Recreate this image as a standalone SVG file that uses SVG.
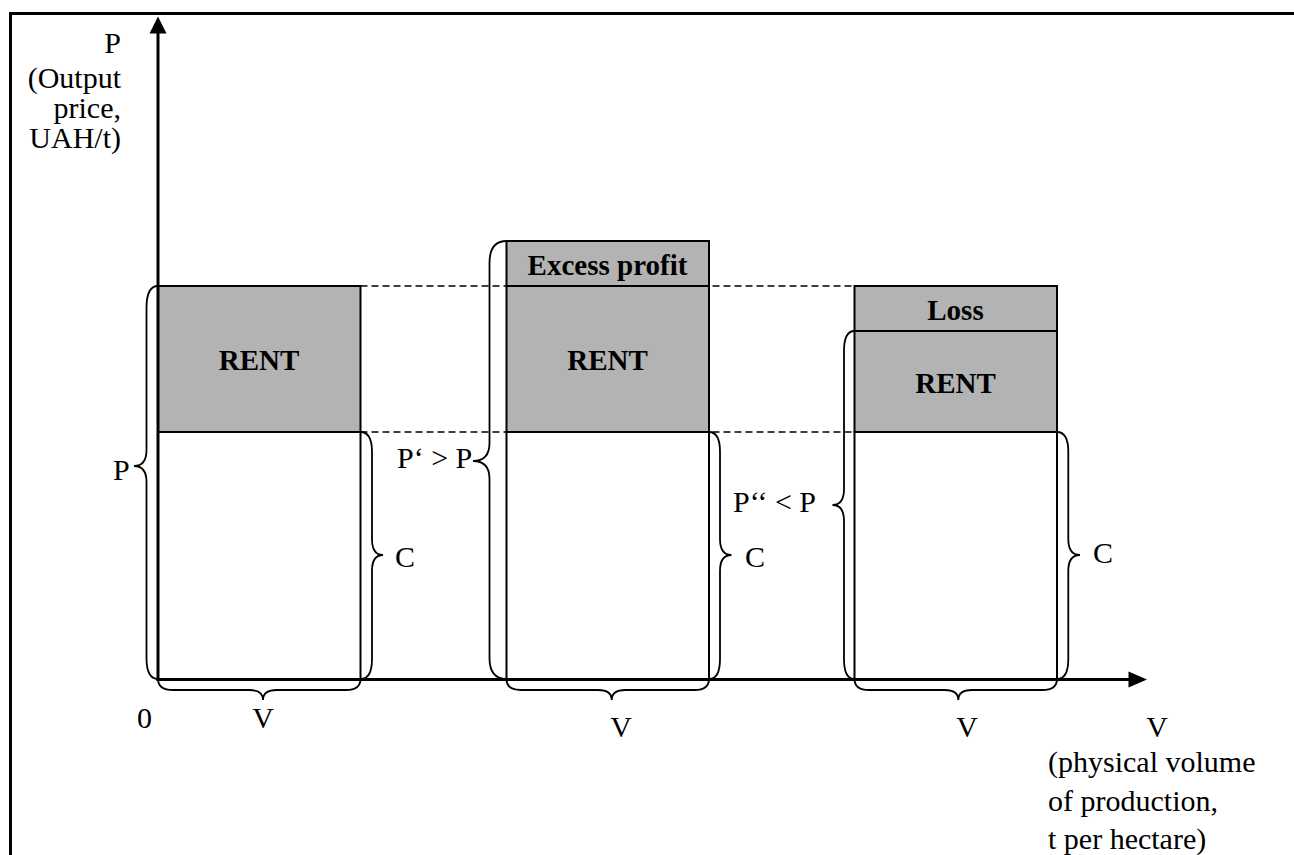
<svg xmlns="http://www.w3.org/2000/svg" width="1294" height="855" viewBox="0 0 1294 855">
<style>
text{font-family:"Liberation Serif","Times New Roman",serif;fill:#000}
.r{font-size:30px}
.b{font-size:29px;font-weight:bold}
.m{text-anchor:middle}
.e{text-anchor:end}
.box{stroke:#000;stroke-width:2}
.g{fill:#b3b3b3}
.w{fill:#fff}
.br{fill:none;stroke:#000;stroke-width:1.8}
.dash{stroke:#000;stroke-width:1.3;stroke-dasharray:7 4}
.ax{stroke:#000;stroke-width:3;fill:none}
</style>
<rect x="0" y="0" width="1294" height="855" fill="#fff"/>
<path id="frame" d="M10.5,860 L10.5,13.5 L1300,13.5" fill="none" stroke="#000" stroke-width="3"/>

<g id="axis-labels">
<text class="r e" x="121" y="53">P</text>
<text class="r e" x="121" y="88">(Output</text>
<text class="r e" x="121" y="118">price,</text>
<text class="r e" x="121" y="148">UAH/t)</text>
<text class="r" x="137" y="728">0</text>
<text class="r m" x="1157" y="737">V</text>
<text class="r" x="1048" y="772">(physical volume</text>
<text class="r" x="1048" y="811">of production,</text>
<text class="r" x="1048" y="849">t per hectare)</text>
</g>

<g id="box1">
<rect class="box g" x="158" y="286" width="202.5" height="146"/>
<rect class="box w" x="158" y="432" width="202.5" height="247.5"/>
<text class="b m" x="259" y="370">RENT</text>
</g>

<g id="box2">
<rect class="box g" x="506.5" y="241" width="202.5" height="45"/>
<rect class="box g" x="506.5" y="286" width="202.5" height="146"/>
<rect class="box w" x="506.5" y="432" width="202.5" height="247.5"/>
<text class="b m" x="607.5" y="275">Excess profit</text>
<text class="b m" x="607.5" y="370">RENT</text>
</g>

<g id="box3">
<rect class="box g" x="854.5" y="286" width="202.5" height="45"/>
<rect class="box g" x="854.5" y="331" width="202.5" height="101"/>
<rect class="box w" x="854.5" y="432" width="202.5" height="247.5"/>
<text class="b m" x="955.5" y="320">Loss</text>
<text class="b m" x="955.5" y="393">RENT</text>
</g>

<g id="connectors">
<line class="dash" x1="360.5" y1="286" x2="854.5" y2="286"/>
<line class="dash" x1="360.5" y1="432" x2="854.5" y2="432"/>
<line class="ax" x1="158" y1="681" x2="158" y2="32"/>
<polygon points="158,16.5 149.5,33.5 166.5,33.5" fill="#000"/>
<line class="ax" x1="156.5" y1="679.5" x2="1130" y2="679.5"/>
<polygon points="1147,679.5 1128.5,671.5 1128.5,687.5" fill="#000"/>

<!-- P brace -->
<path class="br" d="M158,286 Q146.5,286 146.5,308 L146.5,450 Q146.5,466 134,466 Q146.5,466 146.5,482 L146.5,658 Q146.5,679 158,679"/>
<!-- P' brace -->
<path class="br" d="M506.5,241 Q489.5,241 489.5,263 L489.5,443 Q489.5,461 473,461 Q489.5,461 489.5,479 L489.5,658 Q489.5,679 506.5,679"/>
<!-- P'' brace -->
<path class="br" d="M854.5,331 Q844,331 844,351 L844,489 Q844,505 832.5,505 Q844,505 844,521 L844,659 Q844,679 854.5,679"/>
<!-- C braces -->
<path class="br" d="M360.5,432 Q372,432 372,452 L372,539 Q372,555 383,555 Q372,555 372,571 L372,659 Q372,679 360.5,679"/>
<path class="br" d="M709,432 Q720,432 720,452 L720,539 Q720,555 731.5,555 Q720,555 720,571 L720,659 Q720,679 709,679"/>
<path class="br" d="M1057,432 Q1068.3,432 1068.3,452 L1068.3,539 Q1068.3,555 1080,555 Q1068.3,555 1068.3,571 L1068.3,659 Q1068.3,679 1057,679"/>
<!-- V braces -->
<path class="br" d="M158,679 Q158,690 173,690 L249,690 Q263,690 263,700 Q263,690 277,690 L346,690 Q360.5,690 360.5,679"/>
<path class="br" d="M506.5,679 Q506.5,690 521,690 L598,690 Q611.7,690 611.7,700 Q611.7,690 625.5,690 L694.5,690 Q709,690 709,679"/>
<path class="br" d="M854.5,679 Q854.5,690 869,690 L944.5,690 Q958.3,690 958.3,700 Q958.3,690 972,690 L1042.5,690 Q1057,690 1057,679"/>
</g>

<g id="brace-labels">
<text class="r" x="113" y="480">P</text>
<text class="r m" x="263" y="728">V</text>
<text class="r m" x="621" y="737">V</text>
<text class="r m" x="967" y="737">V</text>
<text class="r" x="395" y="567">C</text>
<text class="r" x="745" y="567">C</text>
<text class="r" x="1093" y="563">C</text>
<text class="r" x="397" y="468">P‘ &gt; P</text>
<text class="r" x="733" y="512">P‘‘ &lt; P</text>
</g>
</svg>
